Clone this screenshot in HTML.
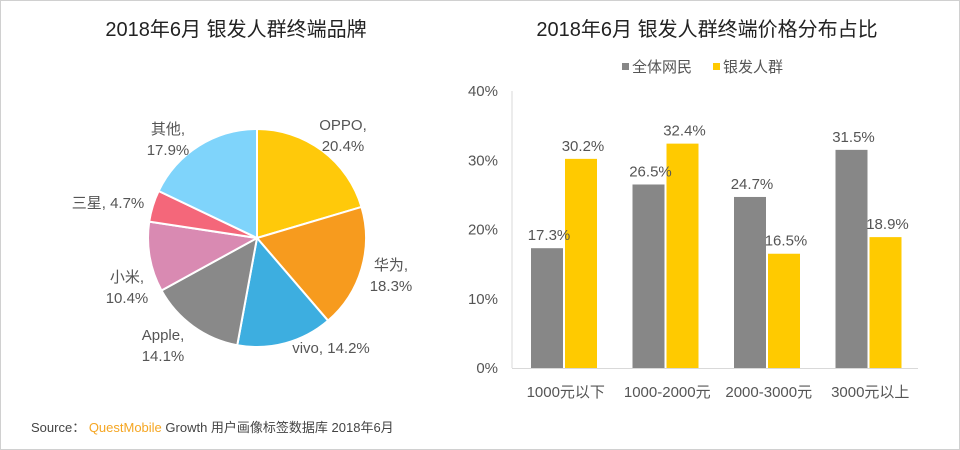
<!DOCTYPE html>
<html><head><meta charset="utf-8"><style>
body{margin:0;background:#fff;}
#wrap{position:relative;width:958px;height:448px;border:1px solid #d0d0d0;overflow:hidden;font-family:"Liberation Sans","Noto Sans CJK SC",sans-serif;}
svg text{font-family:"Liberation Sans","Noto Sans CJK SC",sans-serif;}
</style></head><body>
<div id="wrap">
<svg id="svg" width="958" height="448">
<text x="235" y="35" text-anchor="middle" font-size="20" fill="#222">2018年6月 银发人群终端品牌</text>
<text x="706" y="35" text-anchor="middle" font-size="20" fill="#222">2018年6月 银发人群终端价格分布占比</text>
<g id="pie"></g>
<g id="bars"></g>
<text x="30" y="431" font-size="13" fill="#444">Source：  <tspan fill="#f5a623">QuestMobile</tspan> Growth 用户画像标签数据库 2018年6月</text>
</svg>
</div>
<script>
const pieLabels=["OPPO","华为","vivo","Apple","小米","三星","其他"];
const pieValues=[20.4,18.3,14.2,14.1,10.4,4.7,17.9];
const pieColors=["#ffc90a","#f79b1e","#3daee0","#898989","#d98ab2","#f4677a","#7fd4fb"];
const pieLabelPos=[[342,129,"OPPO,","20.4%","middle"],[390,269,"华为,","18.3%","middle"],[330,352,"vivo, 14.2%",null,"middle"],[162,339,"Apple,","14.1%","middle"],[126,281,"小米,","10.4%","middle"],[107,207,"三星, 4.7%",null,"middle"],[167,133,"其他,","17.9%","middle"]];

const cats=["1000元以下","1000-2000元","2000-3000元","3000元以上"];
const allUsers=[17.3,26.5,24.7,31.5];
const silver=[30.2,32.4,16.5,18.9];
const yTicks=[0,10,20,30,40];

const NS="http://www.w3.org/2000/svg";
function mk(tag,attrs,parent,text){const e=document.createElementNS(NS,tag);for(const k in attrs)e.setAttribute(k,attrs[k]);if(text!=null)e.textContent=text;parent.appendChild(e);return e;}

const pie=document.getElementById('pie');
const cx=256,cy=237,r=109;
const total=pieValues.reduce((a,b)=>a+b,0);
let a0=0;
pieValues.forEach((v,i)=>{
  const a1=a0+v/total*2*Math.PI;
  const x0=cx+r*Math.sin(a0),y0=cy-r*Math.cos(a0),x1=cx+r*Math.sin(a1),y1=cy-r*Math.cos(a1);
  const large=(a1-a0)>Math.PI?1:0;
  const p=mk('path',{d:`M${cx},${cy}L${x0},${y0}A${r},${r} 0 ${large} 1 ${x1},${y1}Z`,fill:pieColors[i],stroke:'#fff','stroke-width':2},pie);
  
  
  a0=a1;
});
pieLabelPos.forEach((lp,i)=>{
  const t=mk('text',{x:lp[0],y:lp[1],'text-anchor':lp[4],'font-size':15,fill:'#555'},pie);
  
  
  mk('tspan',{x:lp[0]},t,lp[2]);
  if(lp[3]) mk('tspan',{x:lp[0],dy:21},t,pieValues[i].toFixed(1)+'%');
});

const g=document.getElementById('bars');
const x0=511,x1=917,yB=367,yT=90,ymax=40;
const y=v=>yB-(v/ymax)*(yB-yT);
const gw=(x1-x0)/cats.length;
mk('line',{x1:x0,y1:yT,x2:x0,y2:yB,stroke:'#d9d9d9'},g);
const ax=mk('line',{x1:x0,y1:yB+0.5,x2:x1,y2:yB+0.5,stroke:'#d9d9d9'},g);


yTicks.forEach(t=>{
  const e=mk('text',{x:497,y:y(t)+5,'text-anchor':'end','font-size':15,fill:'#555'},g,t+'%');
  
  
});
cats.forEach((c,i)=>{
  const gx=x0+i*gw;
  const bw=32;
  const gxA=gx+19, gxB=gx+19+bw+2;
  const b1=mk('rect',{x:gxA,y:y(allUsers[i]),width:bw,height:yB-y(allUsers[i]),fill:'#878787'},g);
  
  
  const b2=mk('rect',{x:gxB,y:y(silver[i]),width:bw,height:yB-y(silver[i]),fill:'#ffca00'},g);
  
  
  const l1=mk('text',{x:gxA+bw/2+2,y:y(allUsers[i])-8,'text-anchor':'middle','font-size':15,fill:'#555'},g,allUsers[i].toFixed(1)+'%');
  
  
  const l2=mk('text',{x:gxB+bw/2+2,y:y(silver[i])-8,'text-anchor':'middle','font-size':15,fill:'#555'},g,silver[i].toFixed(1)+'%');
  
  
  const cl=mk('text',{x:gx+gw/2+3,y:396,'text-anchor':'middle','font-size':15,fill:'#555'},g,c);
  
  
});
const lg=mk('g',{},g);


mk('rect',{x:621,y:62,width:7,height:7,fill:'#878787'},lg);
mk('text',{x:631,y:71,'font-size':15,fill:'#555'},lg,'全体网民');
mk('rect',{x:712,y:62,width:7,height:7,fill:'#ffca00'},lg);
mk('text',{x:722,y:71,'font-size':15,fill:'#555'},lg,'银发人群');
</script>
</body></html>
